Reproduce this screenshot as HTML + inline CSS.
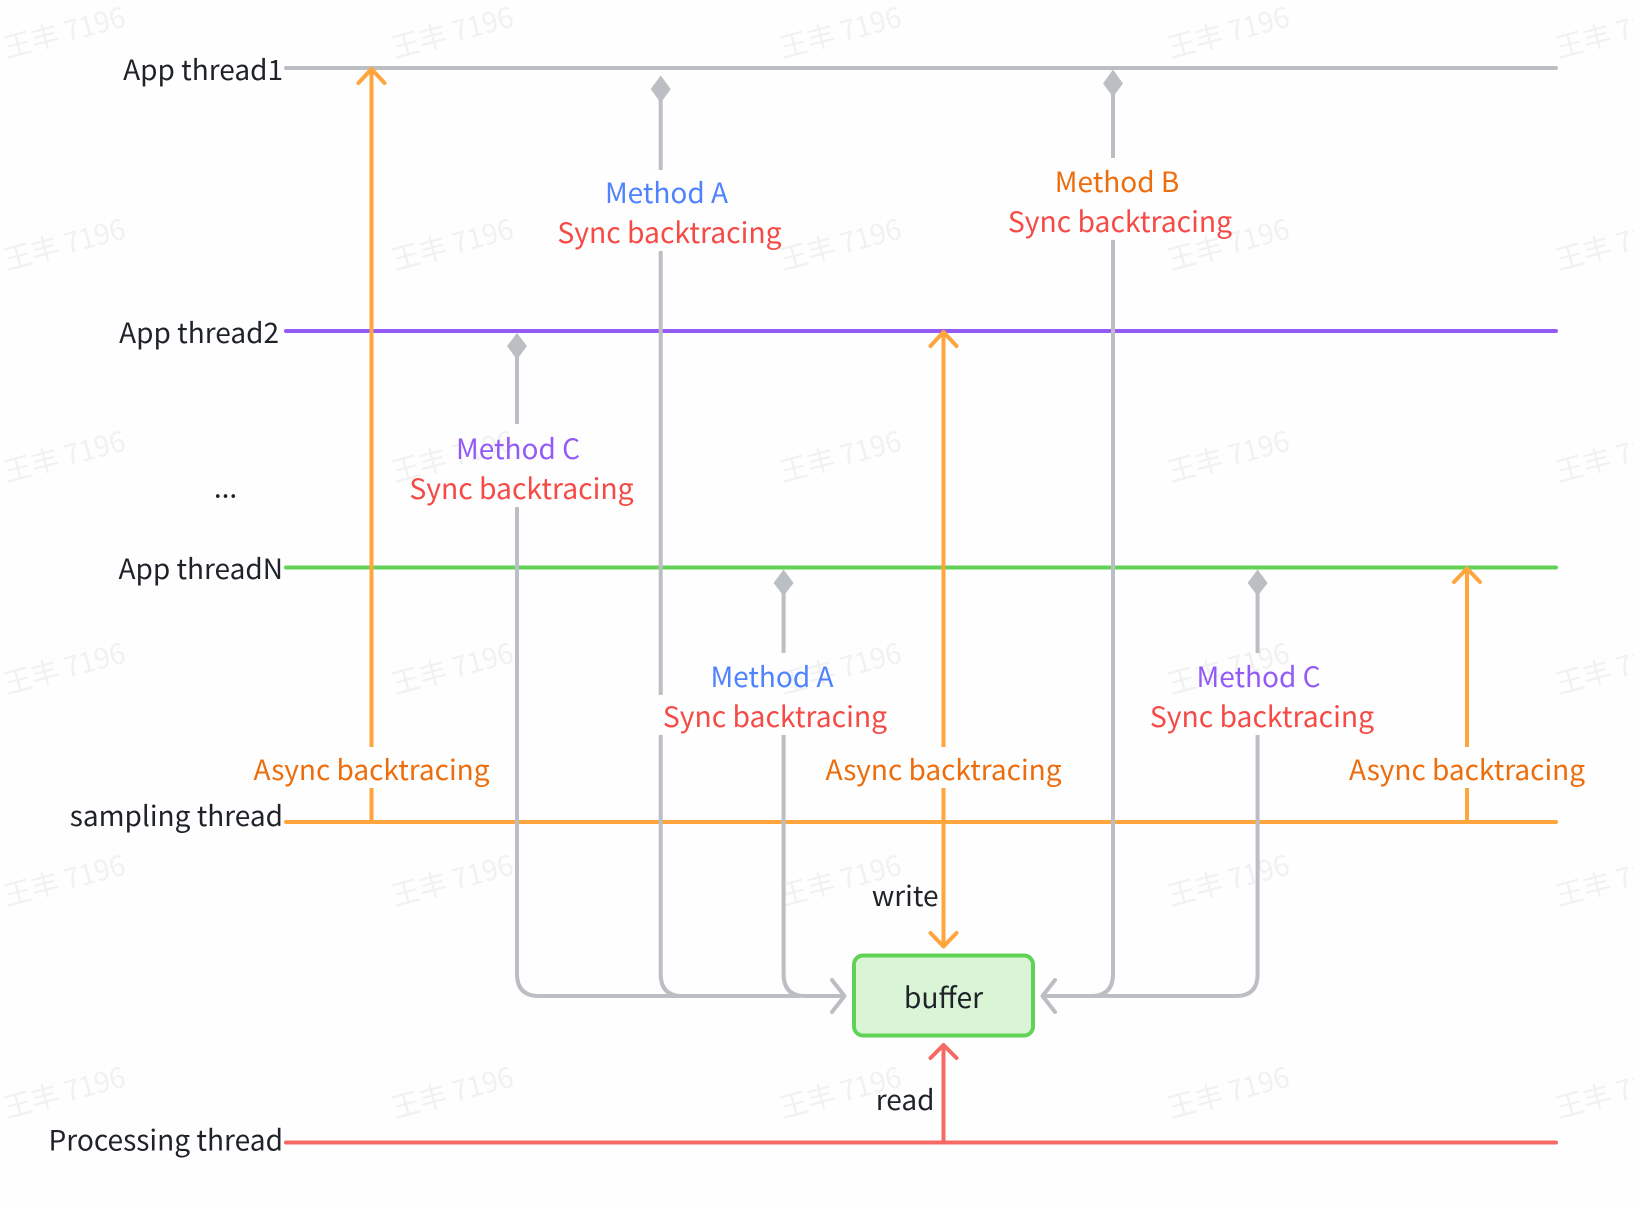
<!DOCTYPE html>
<html><head><meta charset="utf-8"><style>
html,body{margin:0;padding:0;background:#fefefe}
svg{display:block}
text{font-family:"Noto Sans CJK SC","Liberation Sans",sans-serif;font-size:28px}
.d{fill:#1f2329}.l{text-anchor:end}.m{text-anchor:middle}
.b{fill:#4e83fd}.p{fill:#935af6}.o{fill:#ed6d0c}.r{fill:#f54a45;font-size:28.3px}
.w text{fill:#f0f1f2;font-size:28px}
.g{stroke:#bbbfc4;stroke-width:4;fill:none}
.a{stroke:#ffa53d;stroke-width:4;fill:none}
</style></head><body>
<svg width="1634" height="1208" viewBox="0 0 1634 1208" xmlns="http://www.w3.org/2000/svg">
<rect width="1634" height="1208" fill="#fefefe"/>
<g class="w">
<text transform="translate(7 58) rotate(-15)">王丰 7196</text><text transform="translate(395 58) rotate(-15)">王丰 7196</text><text transform="translate(783 58) rotate(-15)">王丰 7196</text><text transform="translate(1171 58) rotate(-15)">王丰 7196</text><text transform="translate(1559 58) rotate(-15)">王丰 7196</text>
<text transform="translate(7 270) rotate(-15)">王丰 7196</text><text transform="translate(395 270) rotate(-15)">王丰 7196</text><text transform="translate(783 270) rotate(-15)">王丰 7196</text><text transform="translate(1171 270) rotate(-15)">王丰 7196</text><text transform="translate(1559 270) rotate(-15)">王丰 7196</text>
<text transform="translate(7 482) rotate(-15)">王丰 7196</text><text transform="translate(395 482) rotate(-15)">王丰 7196</text><text transform="translate(783 482) rotate(-15)">王丰 7196</text><text transform="translate(1171 482) rotate(-15)">王丰 7196</text><text transform="translate(1559 482) rotate(-15)">王丰 7196</text>
<text transform="translate(7 694) rotate(-15)">王丰 7196</text><text transform="translate(395 694) rotate(-15)">王丰 7196</text><text transform="translate(783 694) rotate(-15)">王丰 7196</text><text transform="translate(1171 694) rotate(-15)">王丰 7196</text><text transform="translate(1559 694) rotate(-15)">王丰 7196</text>
<text transform="translate(7 906) rotate(-15)">王丰 7196</text><text transform="translate(395 906) rotate(-15)">王丰 7196</text><text transform="translate(783 906) rotate(-15)">王丰 7196</text><text transform="translate(1171 906) rotate(-15)">王丰 7196</text><text transform="translate(1559 906) rotate(-15)">王丰 7196</text>
<text transform="translate(7 1118) rotate(-15)">王丰 7196</text><text transform="translate(395 1118) rotate(-15)">王丰 7196</text><text transform="translate(783 1118) rotate(-15)">王丰 7196</text><text transform="translate(1171 1118) rotate(-15)">王丰 7196</text><text transform="translate(1559 1118) rotate(-15)">王丰 7196</text>
</g>

<!-- horizontal thread lines -->
<g stroke-width="4" stroke-linecap="round" fill="none">
<path d="M286 68H1556" stroke="#bbbfc4"/>
<path d="M286 331H1556" stroke="#935af6"/>
<path d="M286 567.5H1556" stroke="#62d256"/>
<path d="M286 822H1556" stroke="#ffa53d"/>
<path d="M286 1142.5H1556" stroke="#f76964"/>
</g>

<!-- gray sync connectors -->
<g class="g">
<path d="M517 350V424M517 507V974Q517 996 539 996H800"/>
<path d="M660.7 95V170M660.7 251V695M660.7 735V974Q660.7 996 682 996H800"/>
<path d="M783.6 587V653M783.6 735V974Q783.6 996 805 996H844"/>
<path d="M1113 90V158M1113 240V974Q1113 996 1091 996H1043"/>
<path d="M1257.6 587V653M1257.6 735V974Q1257.6 996 1236 996H1043"/>
<path d="M832 980L844.5 996L832 1012" stroke-linecap="round" stroke-linejoin="round"/>
<path d="M1055 980L1042.5 996L1055 1012" stroke-linecap="round" stroke-linejoin="round"/>
</g>
<g fill="#bbbfc4">
<path d="M660.7 75.500L670.700 89L660.7 103L650.700 89Z"/>
<path d="M1113 69.500L1123 83.500L1113 97L1103 83.500Z"/>
<path d="M517 333L527 346L517 359.500L507 346Z"/>
<path d="M783.6 569.500L793.600 583L783.6 596L773.600 583Z"/>
<path d="M1257.6 569.500L1267.600 583L1257.6 596L1247.600 583Z"/>
</g>

<!-- orange async arrows -->
<g class="a" stroke-linejoin="round">
<path d="M371.500 70V747M371.500 788V822"/>
<path d="M943.500 333V747M943.500 788V945"/>
<path d="M1467 570V747M1467 788V822"/>
<path d="M358.500 83L371.500 69L384.500 83" stroke-linecap="round"/>
<path d="M930.500 346L943.500 332L956.500 346" stroke-linecap="round"/>
<path d="M1454 582L1467 568.500L1480 582" stroke-linecap="round"/>
<path d="M930.500 933L943.500 946.500L956.500 933" stroke-linecap="round"/>
</g>
<path d="M943.500 1142V1046M930.500 1058L943.500 1045L956.500 1058" fill="none" stroke="#f76964" stroke-width="4" stroke-linecap="round" stroke-linejoin="round"/>

<!-- buffer -->
<rect x="854" y="955.500" width="179" height="80" rx="9" fill="#d9f5d6" stroke="#62d256" stroke-width="4"/>
<text x="943.500" y="1008" class="d m" style="font-size:28.3px">buffer</text>

<!-- left labels -->
<text x="283" y="80" class="d l">App thread1</text>
<text x="279" y="343" class="d l">App thread2</text>
<text x="225.500" y="497.500" class="d m">...</text>
<text x="283" y="579" class="d l">App threadN</text>
<text x="283" y="826" class="d l">sampling thread</text>
<text x="283" y="1150.500" class="d l" style="font-size:28.1px">Processing thread</text>

<!-- sync labels -->
<text x="666.500" y="203" class="b m">Method A</text>
<text x="669.500" y="243" class="r m">Sync backtracing</text>
<text x="1117" y="192" class="o m">Method B</text>
<text x="1120" y="232" class="r m">Sync backtracing</text>
<text x="518" y="459" class="p m">Method C</text>
<text x="521.500" y="499" class="r m">Sync backtracing</text>
<text x="772" y="687" class="b m">Method A</text>
<text x="775" y="727" class="r m">Sync backtracing</text>
<text x="1258.500" y="687" class="p m">Method C</text>
<text x="1262" y="727" class="r m">Sync backtracing</text>

<!-- async labels -->
<text x="371.500" y="780" class="o m">Async backtracing</text>
<text x="943.500" y="780" class="o m">Async backtracing</text>
<text x="1467" y="780" class="o m">Async backtracing</text>
<text x="938.500" y="906" class="d l">write</text>
<text x="934.500" y="1110" class="d l">read</text>
</svg>
</body></html>
